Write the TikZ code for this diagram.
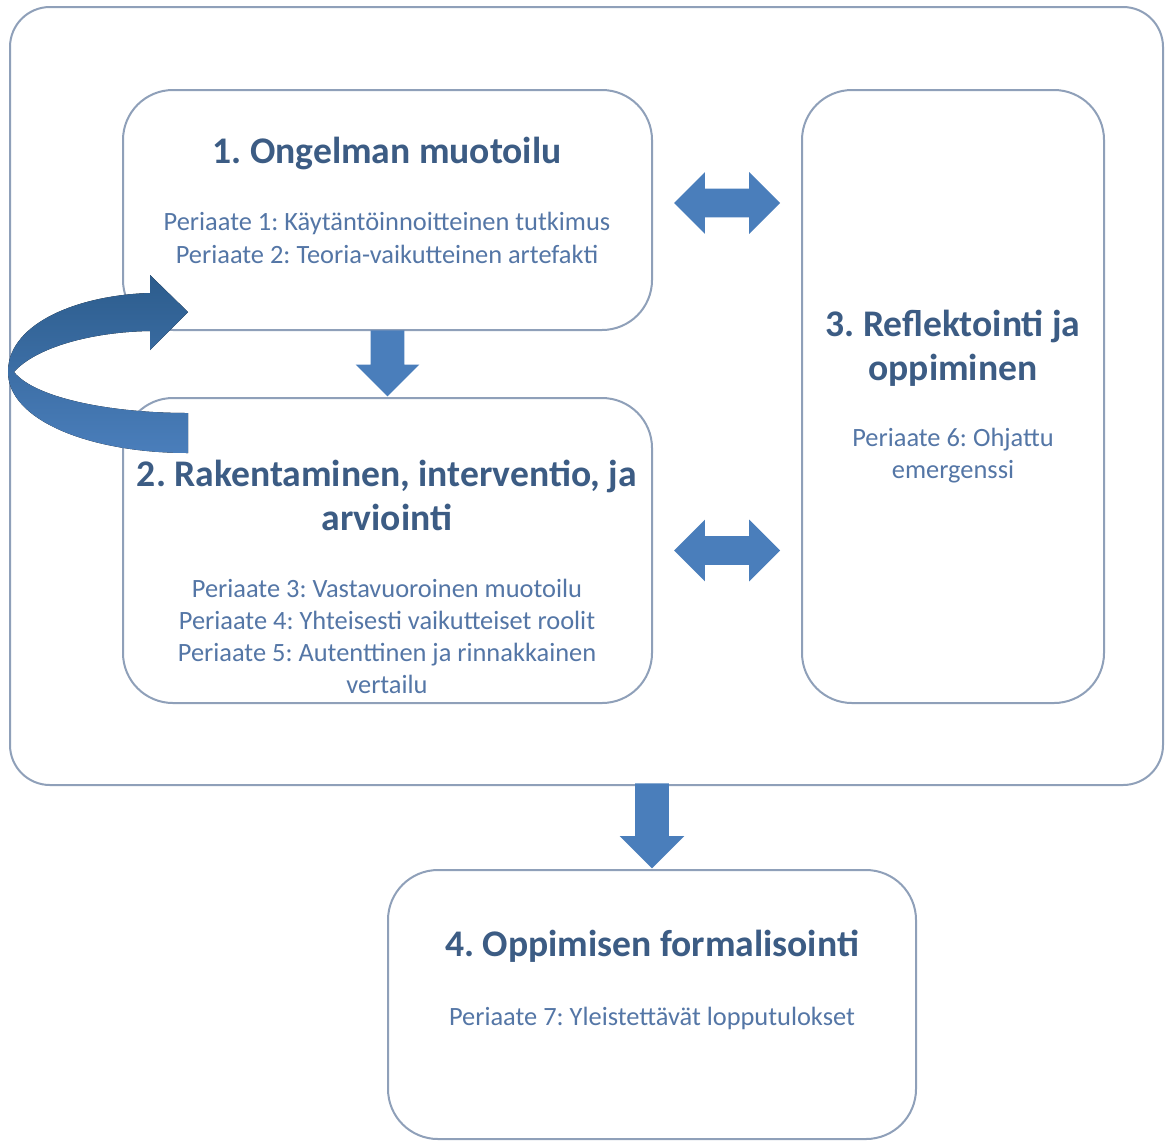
\documentclass[tikz,border=0pt]{standalone}
\usepackage{fontspec}
\setmainfont{Carlito}
\usetikzlibrary{shapes.arrows,calc}
\frenchspacing

\definecolor{boxline}{RGB}{143,160,185}
\definecolor{arrowblue}{RGB}{74,126,187}
\definecolor{loopdark}{RGB}{44,92,140}
\definecolor{titleblue}{RGB}{60,92,132}
\definecolor{textblue}{RGB}{84,118,166}

\begin{document}
\begin{tikzpicture}[x=0.5pt, y=-0.5pt,
        stagebox/.style={draw=boxline, line width=1pt, rounded corners=25pt, fill=white, inner sep=0pt},
        stagetitle/.style={titleblue, font=\bfseries\fontsize{18.8}{22}\selectfont, align=center},
        principle/.style={textblue, font=\fontsize{13.2}{16.1}\selectfont, align=center},
        downarrow/.style={single arrow, shape border rotate=270, fill=arrowblue, inner ysep=0pt, anchor=tip},
        twoway/.style={double arrow, fill=arrowblue, inner xsep=0pt, minimum height=53pt, minimum width=30.5pt,
            inner ysep=7pt, double arrow head extend=8.25pt}]
        \useasboundingbox (0,0) rectangle (1165,1141);

        % Frame
        \node[stagebox, rounded corners=20pt, minimum width=576.5pt, minimum height=389pt] (outer) at (586.5,396) {};

        % Stages
        \node[stagebox, minimum width=264.5pt, minimum height=120pt] (stage1) at (387.5,210) {};
        \node[stagebox, minimum width=264.5pt, minimum height=152.5pt] (stage2) at (387.5,550.5) {};
        \node[stagebox, minimum width=151pt, minimum height=306.5pt] (stage3) at (953,396.5) {};
        \node[stagebox, minimum width=264pt, minimum height=134.5pt] (stage4) at (652,1004.5) {};

        \node[stagetitle] (stage1title) at (387,153) {1. Ongelman muotoilu};
        \node[principle] (stage1text) at (387,238) {Periaate 1: Käytäntöinnoitteinen tutkimus\\Periaate 2: Teoria-vaikutteinen artefakti};

        \node[stagetitle] (stage2title) at (387,495) {2. Rakentaminen, interventio, ja\\arviointi};
        \node[principle] (stage2text) at (387,636.5) {Periaate 3: Vastavuoroinen muotoilu\\Periaate 4: Yhteisesti vaikutteiset roolit\\Periaate 5: Autenttinen ja rinnakkainen\\vertailu};

        \node[stagetitle] (stage3title) at (953,348) {3. Reflektointi ja\\oppiminen};
        \node[principle] (stage3text) at (953,455.5) {Periaate 6: Ohjattu\\emergenssi};

        \node[stagetitle] (stage4title) at (652,946) {4. Oppimisen formalisointi};
        \node[principle] (stage4text) at (652,1018) {Periaate 7: Yleistettävät lopputulokset};

        % Block arrows
        \node[downarrow, minimum height=33pt, minimum width=31.5pt, inner xsep=8.25pt, single arrow head extend=7.5pt]
            (arrow12) at (stage2.north) {};
        \node[downarrow, minimum height=42.5pt, minimum width=32pt, inner xsep=8.25pt, single arrow head extend=7.75pt]
            (arrow34) at (stage4.north) {};
        \node[twoway, yshift=3.5pt] (arrow13) at ($(stage1.east)!0.5!(stage3.west |- stage1.east)$) {};
        \node[twoway] (arrow23) at ($(stage2.east)!0.5!(stage3.west |- stage2.east)$) {};

        % Loop back from stage 2 to stage 1
        \fill[top color=loopdark, bottom color=arrowblue]
            (188,413) .. controls (110,413) and (35,398) .. (14,372)
            .. controls (35,348) and (90,332) .. (150,331)
            -- (150,350) -- (188,312) -- (150,275) -- (150,293)
            .. controls (80,295) and (10,322) .. (8,370)
            .. controls (6,420) and (90,453) .. (188,453) -- cycle;
    \end{tikzpicture}
\end{document}
